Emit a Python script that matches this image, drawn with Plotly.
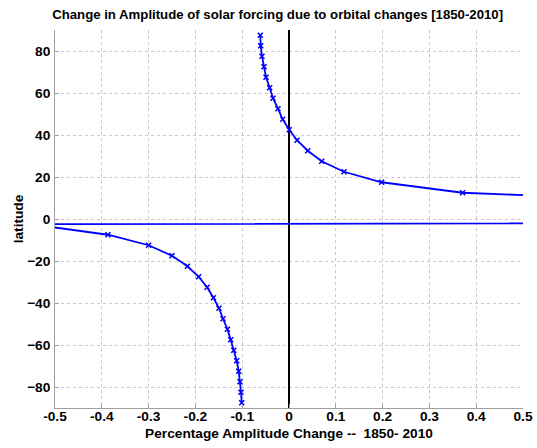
import plotly.graph_objects as go

latitude = [87.5, 82.5, 77.5, 72.5, 67.5, 62.5, 57.5, 52.5, 47.5, 42.5,
            37.5, 32.5, 27.5, 22.5, 17.5, 12.5, 7.5, 2.5,
            -2.5, -7.5, -12.5, -17.5, -22.5, -27.5, -32.5, -37.5, -42.5,
            -47.5, -52.5, -57.5, -62.5, -67.5, -72.5, -77.5, -82.5, -87.5]
amp_change = [-0.0613, -0.0605, -0.0577, -0.0534, -0.0491, -0.0413, -0.0342, -0.0235, -0.0135, 0.0005,
              0.0171, 0.040, 0.0698, 0.1175, 0.198, 0.371, 0.96, 11.0,
              -0.55, -0.387, -0.300, -0.250, -0.217, -0.193, -0.175, -0.1615, -0.1496,
              -0.141, -0.1316, -0.1246, -0.118, -0.1118, -0.1075, -0.1047, -0.1026, -0.101]

x_ticks = [-0.5, -0.4, -0.3, -0.2, -0.1, 0, 0.1, 0.2, 0.3, 0.4, 0.5]
y_ticks = [-80, -60, -40, -20, 0, 20, 40, 60, 80]

FONT = "Liberation Sans"
FS = 13.7

fig = go.Figure()
fig.add_trace(go.Scatter(
    x=amp_change, y=latitude, mode="lines+markers",
    line=dict(color="#0000FF", width=1.8),
    marker=dict(symbol="x-thin", size=5, color="#0000FF",
                line=dict(color="#0000FF", width=1.6)),
    showlegend=False,
))

axis_common = dict(
    showgrid=True, gridcolor="#c8c8c8", griddash="dot", gridwidth=1,
    showline=True, linecolor="#a0a0a0", linewidth=1, mirror=False,
    ticks="inside", ticklen=4, tickcolor="#a0a0a0",
    tickfont=dict(family=FONT, size=FS, color="black", weight="bold"),
    automargin=False,
)

fig.update_xaxes(
    range=[-0.5, 0.5], tickvals=x_ticks,
    ticktext=[("%g" % v) for v in x_ticks],
    zeroline=True, zerolinecolor="black", zerolinewidth=2,
    ticklabelstandoff=-4,
    title=dict(text="Percentage Amplitude Change --  1850- 2010",
               font=dict(family=FONT, size=FS, color="black", weight="bold"),
               standoff=4),
    **axis_common,
)
fig.update_yaxes(
    range=[-90, 90], tickvals=y_ticks, zeroline=False,
    ticklabelstandoff=1,
    title=dict(text="latitude",
               font=dict(family=FONT, size=FS, color="black", weight="bold"),
               standoff=0),
    **axis_common,
)

fig.update_layout(
    width=537, height=448,
    margin=dict(l=55, r=14, t=30, b=40),
    paper_bgcolor="white", plot_bgcolor="white",
    title=dict(text="Change in Amplitude of solar forcing due to orbital changes [1850-2010]",
               font=dict(family=FONT, size=13.2, color="black", weight="bold"),
               x=0.517, xanchor="center", y=0.968, yanchor="middle"),
)

fig.write_html("out.html")
